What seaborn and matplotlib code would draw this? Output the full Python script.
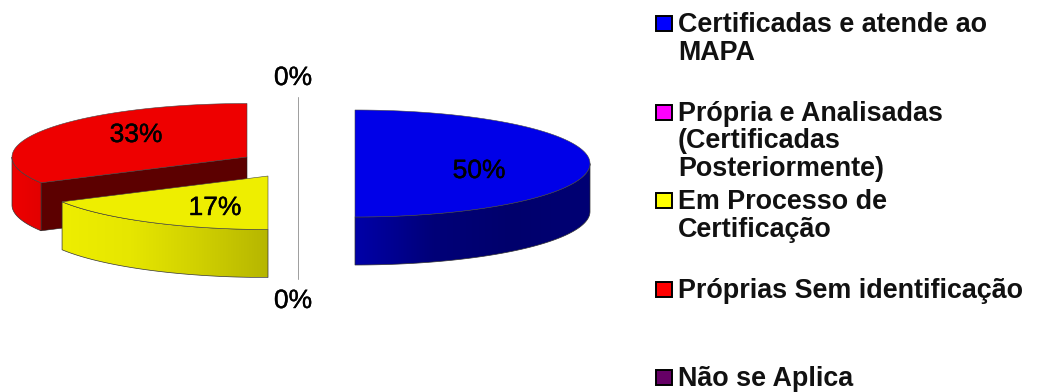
import numpy as np
import matplotlib
matplotlib.use("Agg")
import matplotlib.pyplot as plt
import matplotlib.patheffects as pe
from matplotlib.colors import LinearSegmentedColormap
from matplotlib.patches import Polygon, Rectangle
import seaborn as sns

# Survey shares, in percent, listed clockwise from twelve o'clock
categories = [
    ["Certificadas e atende ao", "MAPA"],
    ["Própria e Analisadas", "(Certificadas", "Posteriormente)"],
    ["Em Processo de", "Certificação"],
    ["Próprias Sem identificação"],
    ["Não se Aplica"],
]
values = [50, 0, 17, 33, 0]
legend_colors = ["#0000ff", "#ff00ff", "#ffff00", "#ff0000", "#660066"]

# Slice styling: top face colour, gradient of the outer wall, cut face colour
top_colors = ["#0000e8", "#ee00ee", "#eeee00", "#ee0000", "#5c005c"]
wall_stops = [
    ["#0000a8", "#000078", "#00006c", "#000074"],
    None,
    ["#eeee00", "#e6e600", "#d0d000", "#b6b600"],
    ["#f00000", "#ea0000", "#e60000", "#e20000"],
    None,
]
cut_color = "#5c0000"

# Pie projection, in pixels of the figure
RX, RY, DEPTH = 235, 53.5, 48
centers = [(355, 163.5), (297.5, 177), (268, 176), (247, 157), (297.5, 150.5)]
label_xy = [(479, 171), (293, 301), (215, 208), (136, 135), (293, 78)]
LEGEND_STEP = 88.5

sns.set_theme(style="white")
plt.rcParams["font.family"] = ["Liberation Sans", "DejaVu Sans"]

fig = plt.figure(figsize=(10.37, 3.92), dpi=100)
ax = fig.add_axes([0, 0, 1, 1])
ax.set_xlim(0, 1037)
ax.set_ylim(392, 0)
ax.axis("off")


def rim(center, a0, a1, drop=0.0, n=120):
    """Points along the projected rim between two angles in degrees."""
    t = np.radians(np.linspace(a0, a1, n))
    return np.column_stack(
        [center[0] + RX * np.cos(t), center[1] - RY * np.sin(t) + drop]
    )


def draw_wall(center, a0, a1, stops, z):
    """Outer wall of a slice, shaded with a horizontal gradient."""
    outline = np.vstack([rim(center, a0, a1), rim(center, a1, a0, DEPTH)])
    patch = Polygon(outline, closed=True, fc="none", ec="#333333", lw=0.5, zorder=z + 0.1)
    ax.add_patch(patch)
    x0, x1 = outline[:, 0].min(), outline[:, 0].max()
    y0, y1 = outline[:, 1].min(), outline[:, 1].max()
    cmap = LinearSegmentedColormap.from_list("wall", stops)
    img = ax.imshow(
        np.linspace(0, 1, 256)[None, :],
        extent=[x0, x1, y1, y0],
        cmap=cmap,
        aspect="auto",
        zorder=z,
    )
    img.set_clip_path(patch)


fractions = np.array(values) / sum(values)
edges = 90 - 360 * np.concatenate([[0], np.cumsum(fractions)])

# Painter's order: back-left slice first, then the front and right slices
for z, i in zip([2, 4, 6], [3, 2, 0]):
    start, end = edges[i], edges[i + 1]
    c = centers[i]
    if i == 3:
        # cut face running from the centre out to the lower left corner
        corner = rim(c, start, start, n=1)[0]
        face = [c, corner, (corner[0], corner[1] + DEPTH), (c[0], c[1] + DEPTH)]
        ax.add_patch(Polygon(face, closed=True, fc=cut_color, ec="#222222", lw=0.4, zorder=z))
        draw_wall(c, -180, start, wall_stops[i], z)
    elif i == 2:
        draw_wall(c, end, start, wall_stops[i], z)
    else:
        draw_wall(c, start - 180, start - 90, wall_stops[i], z)
    top = np.vstack([[c], rim(c, end, start)])
    ax.add_patch(Polygon(top, closed=True, fc=top_colors[i], ec="#444444", lw=0.4, zorder=z + 0.5))

# Empty slices collapse to a thin radial line
for i in [1, 4]:
    if values[i] == 0:
        c = centers[i]
        tip = rim(c, edges[i], edges[i], n=1)[0]
        ys = [min(c[1], tip[1]), max(c[1], tip[1]) + DEPTH]
        ax.plot([c[0], c[0]], ys, color="#a0a0a0", lw=0.72, zorder=1)

for v, (x, y) in zip(values, label_xy):
    ax.text(x, y, f"{v}%", ha="center", va="center", fontsize=19, color="black", zorder=10,
            path_effects=[pe.withStroke(linewidth=0.3, foreground="black")])

# Legend column
for i, (lines, col) in enumerate(zip(categories, legend_colors)):
    ax.add_patch(Rectangle((655.5, 16 + LEGEND_STEP * i), 16, 15, fc=col, ec="black", lw=1.4, zorder=5))
    for j, line in enumerate(lines):
        ax.text(678, 32.2 + LEGEND_STEP * i + 27.5 * j, line, ha="left", va="baseline",
                fontsize=19.4, fontweight="bold", color="#111111")

fig.savefig("out.png", dpi=100)
